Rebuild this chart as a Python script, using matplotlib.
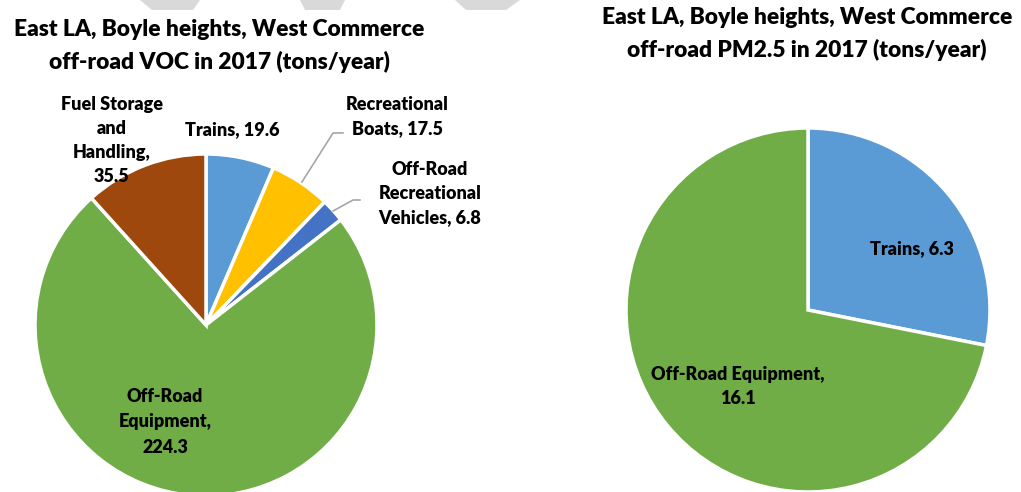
import matplotlib
matplotlib.use("Agg")
import matplotlib.pyplot as plt
from matplotlib.patches import Polygon

W, H = 1021, 492

# ---- data ----
voc_categories = ["Trains", "Recreational Boats", "Off-Road Recreational Vehicles",
                  "Off-Road Equipment", "Fuel Storage and Handling"]
voc_values = [19.6, 17.5, 6.8, 224.3, 35.5]
voc_labels = ["Trains, 19.6", "Recreational\nBoats, 17.5", "Off-Road\nRecreational\nVehicles, 6.8",
              "Off-Road\nEquipment,\n224.3", "Fuel Storage\nand\nHandling,\n35.5"]

pm_categories = ["Trains", "Off-Road Equipment"]
pm_values = [6.3, 16.1]
pm_labels = ["Trains, 6.3", "Off-Road Equipment,\n16.1"]

voc_title = "East LA, Boyle heights, West Commerce\noff-road VOC in 2017 (tons/year)"
pm_title = "East LA, Boyle heights, West Commerce\noff-road PM2.5 in 2017 (tons/year)"

# ---- styles ----
voc_colors = ["#5B9BD5", "#FFC000", "#4472C4", "#70AD47", "#9E480E"]
pm_colors = ["#5B9BD5", "#70AD47"]
FONT = "Lato"
WEIGHT = "heavy"

fig = plt.figure(figsize=(W / 100, H / 100), dpi=100)
fig.patch.set_facecolor("white")

# faint watermark shapes at top
for pts in [[(140, 0), (200, 0), (193, 10), (152, 10)],
            [(300, 0), (345, 0), (340, 10), (305, 10)],
            [(455, 0), (520, 0), (506, 10), (466, 10)]]:
    fig.patches.append(Polygon([(x / W, 1 - y / H) for x, y in pts], closed=True,
                               transform=fig.transFigure, facecolor="#D9D9D9",
                               edgecolor="none", zorder=0))


def pie_axes(cx, cy, r):
    ax = fig.add_axes([(cx - r) / W, (H - cy - r) / H, 2 * r / W, 2 * r / H])
    return ax


def finish(ax):
    ax.set_xlim(-1, 1)
    ax.set_ylim(-1, 1)
    ax.set_aspect("equal")
    ax.axis("off")


txt = dict(fontsize=13, fontweight=WEIGHT, family=FONT, ha="center", va="center",
           linespacing=1.5, color="black")

# ---- left pie ----
ax1 = pie_axes(206, 325, 171)
ax1.pie(voc_values, colors=voc_colors, startangle=90, counterclock=False, radius=1,
        wedgeprops=dict(edgecolor="white", linewidth=2.5, clip_on=False))
finish(ax1)
voc_pos = [(0.152, 1.14), (1.117, 1.22), (1.31, 0.77), (-0.24, -0.567), (-0.55, 1.08)]
voc_spacing = [1.5, 1.5, 1.5, 1.6, 1.5]
for lab, (x, y), ls in zip(voc_labels, voc_pos, voc_spacing):
    ax1.text(x, y, lab, clip_on=False, **{**txt, "linespacing": ls})
ax1.plot([0.801, 0.743, 0.561], [1.123, 1.123, 0.836], color="#A6A6A6", lw=1.2, clip_on=False)
ax1.plot([0.90, 0.86, 0.743], [0.731, 0.731, 0.667], color="#A6A6A6", lw=1.2, clip_on=False)

# ---- right pie ----
ax2 = pie_axes(808, 310, 182)
ax2.pie(pm_values, colors=pm_colors, startangle=90, counterclock=False, radius=1,
        wedgeprops=dict(edgecolor="white", linewidth=2.5, clip_on=False))
finish(ax2)
pm_pos = [(0.571, 0.335), (-0.385, -0.42)]
for lab, (x, y) in zip(pm_labels, pm_pos):
    ax2.text(x, y, lab, clip_on=False, **txt)

# ---- titles ----
tt = dict(fontsize=16.4, fontweight=WEIGHT, family=FONT, ha="center", va="center",
          linespacing=1.55, color="black")
fig.text(219 / W, 1 - 46 / H, voc_title, **tt)
fig.text(807 / W, 1 - 34 / H, pm_title, **tt)

fig.savefig("out.png", dpi=100, facecolor="white")
